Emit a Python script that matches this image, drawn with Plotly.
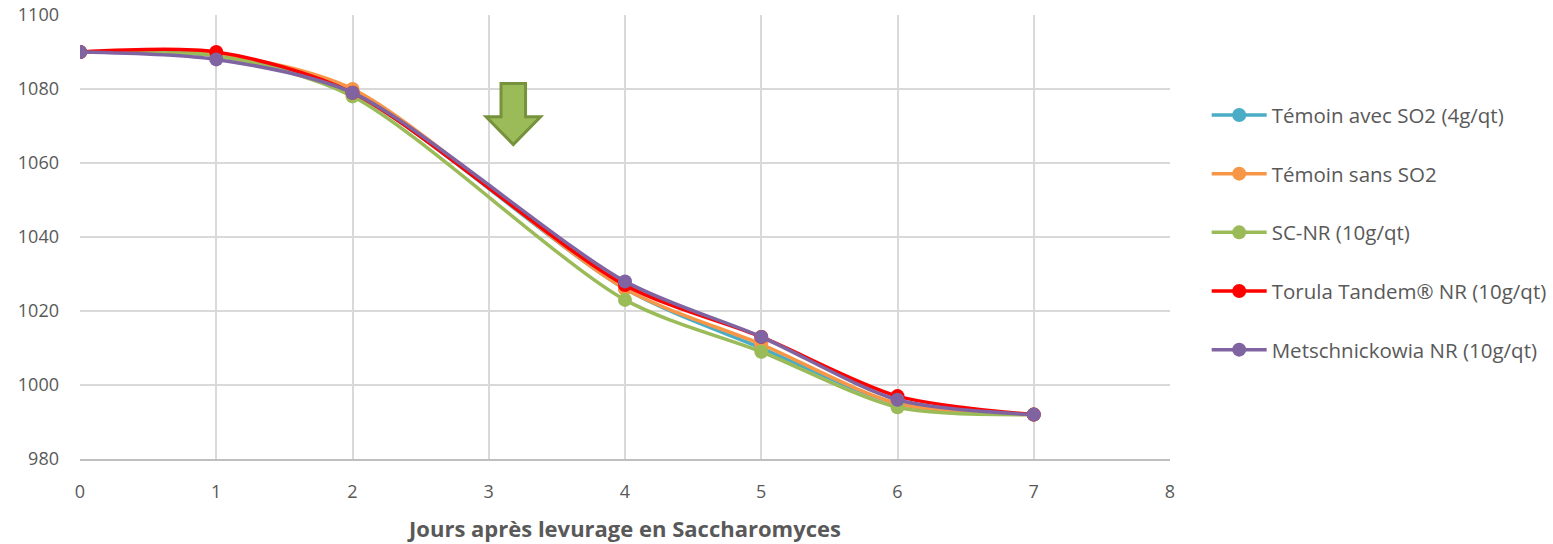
import plotly.graph_objects as go

jours = [0, 1, 2, 4, 5, 6, 7]
temoin_avec_so2 = [1090, 1089, 1079, 1026, 1010, 995, 992]
temoin_sans_so2 = [1090, 1089.5, 1080, 1026, 1011, 995, 992]
sc_nr = [1090, 1089, 1078, 1023, 1009, 994, 992]
torula = [1090, 1090, 1079, 1027, 1013, 997, 992]
metschnickowia = [1090, 1088, 1079, 1028, 1013, 996, 992]

series_names = ["Témoin avec SO2 (4g/qt)", "Témoin sans SO2", "SC-NR (10g/qt)",
                "Torula Tandem® NR (10g/qt)", "Metschnickowia NR (10g/qt)"]
series_values = [temoin_avec_so2, temoin_sans_so2, sc_nr, torula, metschnickowia]
colors = ["#4BACC6", "#F79646", "#9BBB59", "#FF0000", "#8064A2"]

x_ticks = list(range(0, 9))
y_ticks = [980, 1000, 1020, 1040, 1060, 1080, 1100]

fig = go.Figure()
for i, (name, vals, col) in enumerate(zip(series_names, series_values, colors)):
    fig.add_trace(go.Scatter(
        x=jours, y=vals, name=name, mode="lines+markers",
        line=dict(color=col, width=3.5, shape="spline", smoothing=0.8),
        marker=dict(color=col, size=14),
        legendgroup=str(i),
    ))

# green arrow (annotation)
ax, ay_top, ay_tip = 3.18, 1081.5, 1065
sw, hw, hy = 0.09, 0.2, 1072.5
path = (f"M {ax-sw} {ay_top} L {ax+sw} {ay_top} L {ax+sw} {hy} L {ax+hw} {hy} "
        f"L {ax} {ay_tip} L {ax-hw} {hy} L {ax-sw} {hy} Z")
fig.add_shape(type="path", path=path, xref="x", yref="y",
              fillcolor="#9BBB59", line=dict(color="#76923C", width=3))

font_color = "#595959"
fig.update_layout(
    width=1553, height=544,
    paper_bgcolor="white", plot_bgcolor="white",
    margin=dict(l=80, r=383, t=15, b=85),
    font=dict(family="Open Sans, Liberation Sans, sans-serif", size=18, color=font_color),
    xaxis=dict(range=[0, 8], tickvals=x_ticks, showgrid=True, gridcolor="#D9D9D9",
               gridwidth=1.5, zeroline=False, showline=True, linecolor="#BFBFBF",
               linewidth=1.5, ticks="", tickfont=dict(size=18, color=font_color),
               ticklabelstandoff=16, automargin=False,
               title=dict(text="<b>Jours après levurage en Saccharomyces</b>",
                          font=dict(size=22, color=font_color), standoff=19)),
    yaxis=dict(range=[980, 1100], tickvals=y_ticks, showgrid=True, gridcolor="#D9D9D9",
               gridwidth=1.5, zeroline=False, showline=False, ticks="",
               tickfont=dict(size=18, color=font_color), ticklabelstandoff=20,
               automargin=False),
    legend=dict(xref="container", yref="container", x=0.777, y=0.825,
                xanchor="left", yanchor="top", tracegroupgap=29, maxheight=520,
                font=dict(size=20.5, color=font_color), itemwidth=55),
    showlegend=True,
)
fig.write_html("out.html", post_script="document.body.style.margin='0';",
               config={"displayModeBar": False})
